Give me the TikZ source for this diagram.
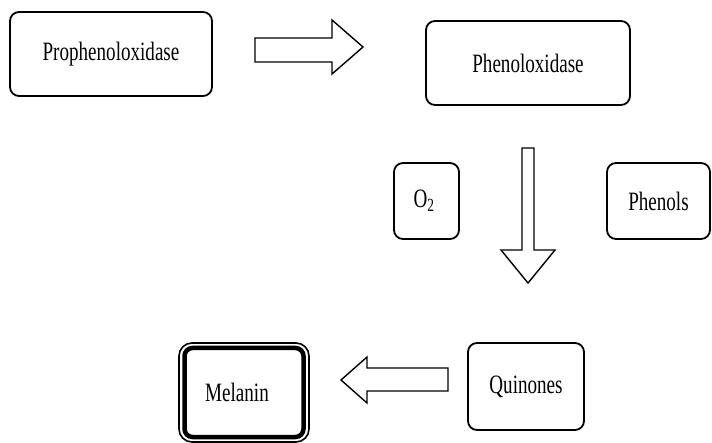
\documentclass[tikz,border=0pt]{standalone}
\usepackage{fontspec}
\setmainfont{Liberation Serif}[FakeStretch=0.72]
\begin{document}
\begin{tikzpicture}[x=1pt,y=-1pt,
  box/.style={draw, line width=1.8pt, rounded corners=9pt, align=center, inner sep=0pt,
    font=\fontsize{26.5}{29}\selectfont},
  blockarrow/.style={draw, line width=1.4pt, fill=white, line join=miter}]
\useasboundingbox (0,0) rectangle (712,443);
\node[box, minimum width=202pt, minimum height=84pt] (pro) at (111,54) {Prophenoloxidase};
\node[box, minimum width=204pt, minimum height=84pt] (phen) at (528,63) {Phenoloxidase};
\node[box, minimum width=65pt, minimum height=76pt] (o2) at (426.5,201) {\hspace*{-5pt}O\textsubscript{2}};
\node[box, minimum width=103pt, minimum height=76pt] (phenols) at (658.5,201) {Phenols};
\node[box, minimum width=116pt, minimum height=87pt] (quin) at (526,386.5) {Quinones};
\node[box, line width=1.6pt, rounded corners=13pt, minimum width=130pt, minimum height=99pt] (melout) at (244,392.5) {};
\node[box, line width=4.5pt, rounded corners=8pt, minimum width=119pt, minimum height=89pt] (mel) at (244,392.5) {\hspace*{-14pt}Melanin};
% block arrows
\draw[blockarrow] (255,38) -- (332,38) -- (332,20) -- (363,47) -- (332,74) -- (332,62) -- (255,62) -- cycle;
\draw[blockarrow] (522,148) -- (534,148) -- (534,250) -- (555,250) -- (528,283) -- (501,250) -- (522,250) -- cycle;
\draw[blockarrow] (448,368) -- (367,368) -- (367,357) -- (341,380) -- (367,403) -- (367,391) -- (448,391) -- cycle;
\end{tikzpicture}
\end{document}
